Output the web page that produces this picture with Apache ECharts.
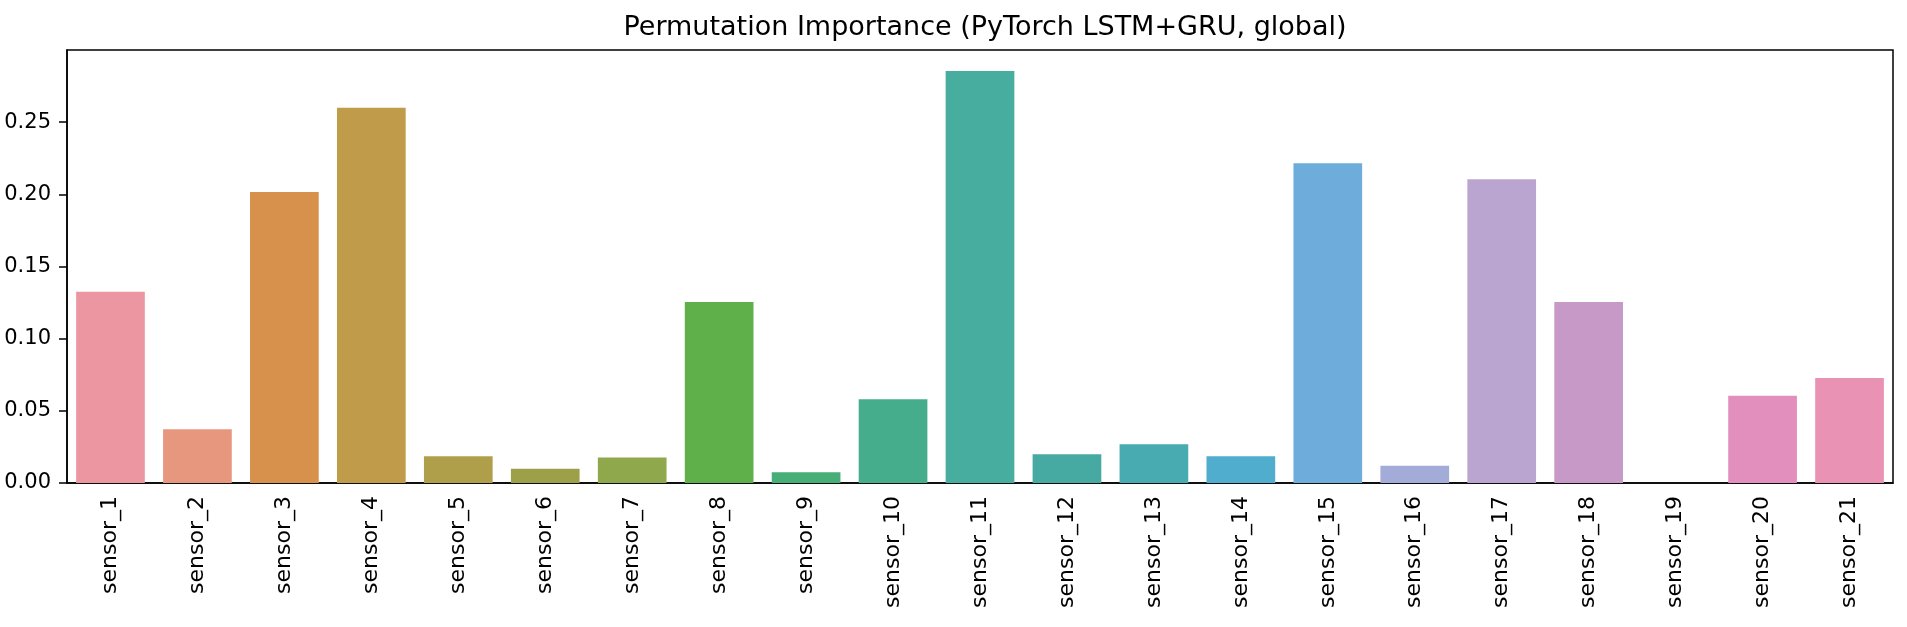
<!DOCTYPE html>
<html>
<head>
<meta charset="utf-8">
<title>Permutation Importance</title>
<script src="https://cdn.jsdelivr.net/npm/echarts@6/dist/echarts.min.js"></script>
<style>
html,body{margin:0;padding:0;background:#fff;}
#importanceChart{width:1907px;height:627px;}
</style>
</head>
<body>
<div id="importanceChart"></div>
<script>
var sensorNames = ['sensor_1','sensor_2','sensor_3','sensor_4','sensor_5','sensor_6','sensor_7',
	'sensor_8','sensor_9','sensor_10','sensor_11','sensor_12','sensor_13','sensor_14',
	'sensor_15','sensor_16','sensor_17','sensor_18','sensor_19','sensor_20','sensor_21'];
var importance = [0.1325, 0.0372, 0.2016, 0.2600, 0.0186, 0.0099, 0.0177,
	0.1254, 0.0075, 0.0580, 0.2855, 0.0199, 0.0268, 0.0186,
	0.2216, 0.0119, 0.2105, 0.1254, 0.0, 0.0605, 0.0728];
var yTicks = [0, 0.05, 0.10, 0.15, 0.20, 0.25];

// seaborn husl palette (desaturated), one colour per sensor
var barColors = ['#eb96a1','#e8977f','#d8904d','#c09b4a','#b09f4a','#9ea049','#8fa84c',
	'#5faf4b','#46ae76','#45ad8c','#47ad9e','#46aaa3','#48abb2','#51adcd',
	'#6eacdc','#a3acd8','#baa5d1','#c799c6','#d494c4','#e28fbd','#ea92b4'];

var fontName = 'DejaVu Sans';
var charts = echarts.init(document.getElementById('importanceChart'));

var option = {
	animation: false,
	title: {
		text: 'Permutation Importance (PyTorch LSTM+GRU, global)',
		left: 980,
		textAlign: 'center',
		top: 9,
		textStyle: { fontFamily: fontName, fontSize: 27, fontWeight: 'normal', color: '#000' }
	},
	grid: {
		left: 67,
		right: 14,
		top: 50,
		bottom: 144,
		show: true,
		borderColor: '#000',
		borderWidth: 1.5,
		backgroundColor: '#fff'
	},
	xAxis: {
		type: 'category',
		data: sensorNames,
		axisLine: { lineStyle: { color: '#000', width: 1.5 } },
		axisTick: { alignWithLabel: true, length: 8, lineStyle: { color: '#000', width: 1.5 } },
		axisLabel: {
			rotate: 90,
			margin: 13,
			interval: 0,
			fontFamily: fontName,
			fontSize: 22,
			color: '#000'
		}
	},
	yAxis: {
		type: 'value',
		min: 0,
		max: 0.3,
		interval: 0.05,
		splitLine: { show: false },
		axisLine: { show: true, lineStyle: { color: '#000', width: 1.5 } },
		axisTick: { show: true, length: 8, customValues: yTicks, lineStyle: { color: '#000', width: 1.5 } },
		axisLabel: {
			margin: 16,
			fontFamily: fontName,
			fontSize: 21,
			color: '#000',
			customValues: yTicks,
			formatter: function(v){ return v.toFixed(2); }
		}
	},
	series: [{
		type: 'bar',
		data: importance,
		barWidth: '79%',
		itemStyle: {
			color: function(p){ return barColors[p.dataIndex]; }
		}
	}]
};
charts.setOption(option);
</script>
</body>
</html>
